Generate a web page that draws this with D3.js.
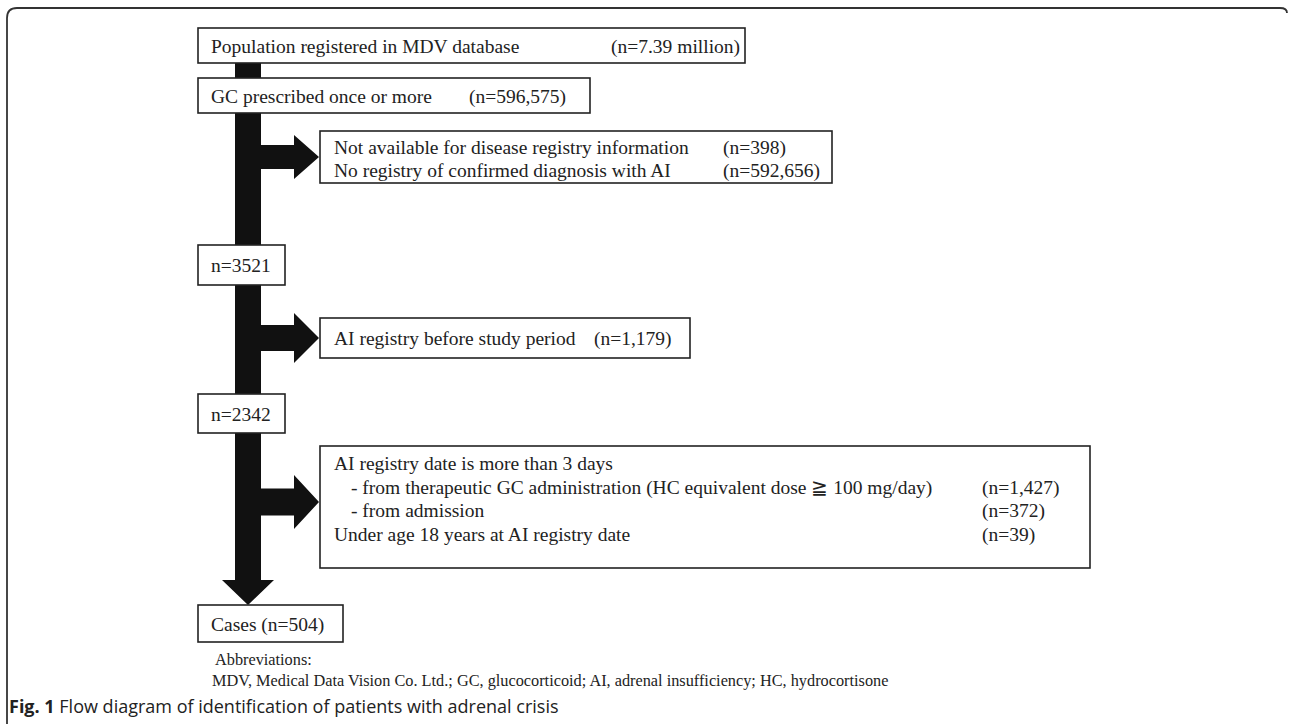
<!DOCTYPE html>
<html>
<head>
<meta charset="utf-8">
<script src="https://cdn.jsdelivr.net/npm/d3@7"></script>
<style>
  body { margin: 0; background: #fff; }
  .box { fill: #fff; stroke: #222; stroke-width: 1.6; }
  .flow { fill: #111; }
  .lbl { font-family: "Liberation Serif", "Times New Roman", serif; font-size: 19.5px; fill: #222; }
  .abbr { font-family: "Liberation Serif", "Times New Roman", serif; font-size: 16.3px; fill: #222; }
  .cap { font-family: "Open Sans", sans-serif; font-size: 18px; fill: #222; }
</style>
</head>
<body>
<svg id="chart"></svg>
<script>
// main stages down the trunk
const stageLabels = ['Population registered in MDV database', 'GC prescribed once or more', 'n=3521', 'n=2342', 'Cases (n=504)'];
const stageCounts = ['(n=7.39 million)', '(n=596,575)', '', '', ''];

// exclusion boxes, one row per line: [text, count, indented]
const exclusion1 = [
  ['Not available for disease registry information', '(n=398)', false],
  ['No registry of confirmed diagnosis with AI', '(n=592,656)', false]
];
const exclusion2 = [
  ['AI registry before study period', '(n=1,179)', false]
];
const exclusion3 = [
  ['AI registry date is more than 3 days', '', false],
  ['- from therapeutic GC administration (HC equivalent dose \u2267 100 mg/day)', '(n=1,427)', true],
  ['- from admission', '(n=372)', true],
  ['Under age 18 years at AI registry date', '(n=39)', false]
];
const exclusions = [exclusion1, exclusion2, exclusion3];

const abbrevTitle = 'Abbreviations:';
const abbrevText = 'MDV, Medical Data Vision Co. Ltd.; GC, glucocorticoid; AI, adrenal insufficiency; HC, hydrocortisone';
const captionBold = 'Fig. 1';
const captionText = ' Flow diagram of identification of patients with adrenal crisis';

const config = {
  width: 1290, height: 726,
  trunkX: 235, trunkW: 26,
  headHalf: 26, headLen: 25,
  // stage boxes
  stages: [
    {x: 198, y: 28, w: 547, h: 35, countX: 611},
    {x: 198, y: 78, w: 392, h: 35, countX: 469},
    {x: 198, y: 245, w: 87, h: 40},
    {x: 198, y: 394, w: 87, h: 39},
    {x: 198, y: 605, w: 145, h: 37}
  ],
  // exclusion boxes and their side arrows
  excl: [
    {x: 320, y: 131, w: 512, h: 52, countX: 723, arrowY: 157, headHalf: 22, stemHalf: 12, firstLine: 154, lineGap: 23},
    {x: 320, y: 318, w: 370, h: 40, countX: 594, arrowY: 338, headHalf: 25, stemHalf: 13, firstLine: 345, lineGap: 23},
    {x: 320, y: 446, w: 770, h: 122, countX: 982, arrowY: 502, headHalf: 27, stemHalf: 13.5, firstLine: 470, lineGap: 23.5}
  ]
};

const svg = d3.select('#chart')
  .attr('width', config.width)
  .attr('height', config.height);

// outer frame
svg.append('path')
  .attr('d', 'M7,724 L7,18 Q7,8 17,8 L1280,8 Q1287,8 1287,13')
  .attr('fill', 'none')
  .attr('stroke', '#333')
  .attr('stroke-width', 1.8);

const line = d3.line();

// trunk with down arrow head, tip touching the last box
const tx = config.trunkX, tw = config.trunkW, cx = tx + tw / 2;
const last = config.stages[config.stages.length - 1];
const tipY = last.y;
svg.append('path')
  .attr('class', 'flow')
  .attr('d', line([
    [tx, config.stages[0].y + config.stages[0].h],
    [tx + tw, config.stages[0].y + config.stages[0].h],
    [tx + tw, tipY - config.headLen],
    [cx + config.headHalf, tipY - config.headLen],
    [cx, tipY],
    [cx - config.headHalf, tipY - config.headLen],
    [tx, tipY - config.headLen]
  ]) + 'Z');

// side arrows
config.excl.forEach(e => {
  const y = e.arrowY, tip = e.x - 1, headX = tip - config.headLen;
  svg.append('path')
    .attr('class', 'flow')
    .attr('d', line([
      [tx + tw - 1, y - e.stemHalf],
      [headX, y - e.stemHalf],
      [headX, y - e.headHalf],
      [tip, y],
      [headX, y + e.headHalf],
      [headX, y + e.stemHalf],
      [tx + tw - 1, y + e.stemHalf]
    ]) + 'Z');
});

// stage boxes
const stageG = svg.selectAll('.stage')
  .data(stageLabels.map((d, i) => ({label: d, count: stageCounts[i], pos: config.stages[i]})))
  .join('g')
  .attr('class', 'stage');

stageG.append('rect')
  .attr('class', 'box')
  .attr('x', d => d.pos.x).attr('y', d => d.pos.y)
  .attr('width', d => d.pos.w).attr('height', d => d.pos.h);

stageG.append('text')
  .attr('class', 'lbl')
  .attr('x', d => d.pos.x + 13)
  .attr('y', d => d.pos.y + d.pos.h / 2 + 7)
  .text(d => d.label);

stageG.filter(d => d.count).append('text')
  .attr('class', 'lbl')
  .attr('x', d => d.pos.countX)
  .attr('y', d => d.pos.y + d.pos.h / 2 + 7)
  .text(d => d.count);

// exclusion boxes
exclusions.forEach((rows, i) => {
  const e = config.excl[i];
  const g = svg.append('g');
  g.append('rect')
    .attr('class', 'box')
    .attr('x', e.x).attr('y', e.y)
    .attr('width', e.w).attr('height', e.h);
  g.selectAll('.t')
    .data(rows)
    .join('text')
    .attr('class', 'lbl')
    .attr('x', d => e.x + (d[2] ? 31 : 14))
    .attr('y', (d, j) => e.firstLine + j * e.lineGap)
    .text(d => d[0]);
  g.selectAll('.c')
    .data(rows.filter(d => d[1]))
    .join('text')
    .attr('class', 'lbl')
    .attr('x', e.countX)
    .attr('y', d => e.firstLine + rows.indexOf(d) * e.lineGap)
    .text(d => d[1]);
});

// abbreviations
svg.append('text').attr('class', 'abbr').attr('x', 215).attr('y', 665).text(abbrevTitle);
svg.append('text').attr('class', 'abbr').attr('x', 212).attr('y', 686).text(abbrevText);

// caption
const cap = svg.append('text').attr('class', 'cap').attr('x', 9).attr('y', 713);
cap.append('tspan').attr('font-weight', 'bold').text(captionBold);
cap.append('tspan').text(captionText);
</script>
</body>
</html>
